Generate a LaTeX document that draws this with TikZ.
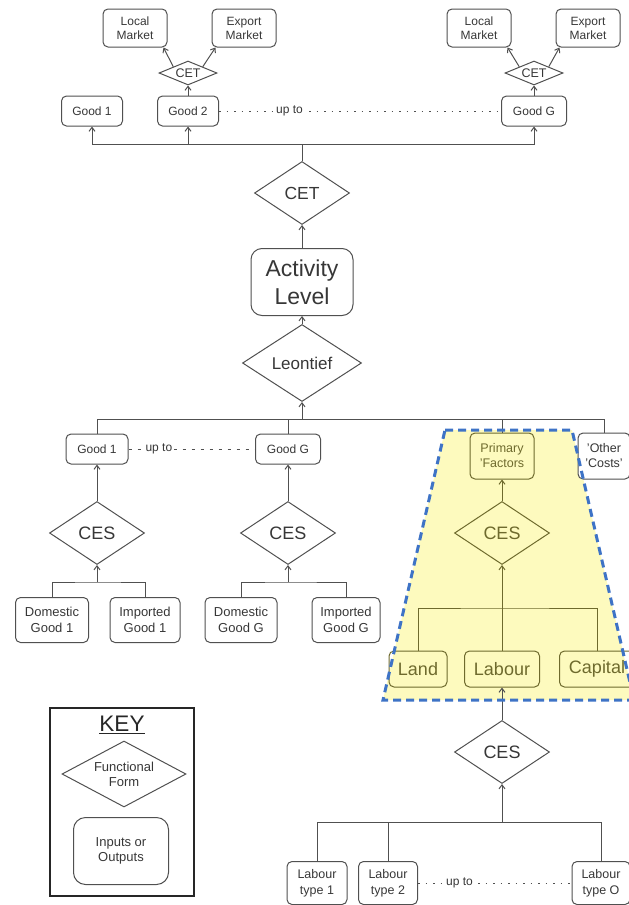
\documentclass[tikz,border=0pt]{standalone}
\usepackage{fontspec}
\setmainfont{Liberation Sans}
\usetikzlibrary{shapes.geometric,arrows.meta,calc}

\definecolor{lin}{RGB}{80,80,80}
\definecolor{txt}{RGB}{55,55,55}
\definecolor{olv}{RGB}{110,106,45}
\definecolor{yel}{RGB}{253,250,190}
\definecolor{blu}{RGB}{62,115,198}

\tikzset{
  box/.style={draw=lin, text=txt, rounded corners=5pt, align=center, inner sep=1pt,
    line width=1pt, font=\fontsize{12}{14}\selectfont},
  form/.style={diamond, draw=lin, text=txt, inner sep=0pt, align=center, line width=1pt,
    shape aspect=1.5, minimum width=95pt, minimum height=63pt, font=\fontsize{18}{20}\selectfont},
  small/.style={shape aspect=2.4, minimum width=58pt, minimum height=24pt,
    font=\fontsize{12.5}{14}\selectfont},
  inyel/.style={draw=olv, text=olv},
  link/.style={draw=lin, line width=1pt},
  upto/.style={draw=lin, line width=1pt, dash pattern=on 1.5pt off 6pt},
  uptext/.style={fill=white, text=txt, inner sep=1.5pt, font=\fontsize{12}{14}\selectfont}
}

\begin{document}
\begin{tikzpicture}[x=1pt, y=-1pt, >={Straight Barb[length=4pt,width=6pt]}]
\useasboundingbox (0,0) rectangle (629,905);
\clip (0,0) rectangle (629,905);

% yellow area behind primary factors
\coordinate (ztl) at (445,430);
\coordinate (ztr) at (572,430);
\coordinate (zbr) at (634,700);
\coordinate (zbl) at (383,700);
\fill[yel] (ztl) -- (ztr) -- (zbr) -- (zbl) -- cycle;

% outputs
\node[box, minimum width=64pt, minimum height=38pt] at (135,28) (mkl1) {Local\\Market};
\node[box, minimum width=64pt, minimum height=38pt] at (244,28) (mkx1) {Export\\Market};
\node[form, small] at (188,73) (cet1) {CET};
\node[box, minimum width=64pt, minimum height=38pt] at (479,28) (mkl2) {Local\\Market};
\node[box, minimum width=64pt, minimum height=38pt] at (588,28) (mkx2) {Export\\Market};
\node[form, small] at (534,73) (cet2) {CET};

\node[box, minimum width=61pt, minimum height=30pt] at (92,111) (gd1) {Good 1};
\node[box, minimum width=61pt, minimum height=30pt] at (188,111) (gd2) {Good 2};
\node[box, minimum width=65pt, minimum height=30pt] at (534,111) (gdG) {Good G};

\node[form, font=\fontsize{17.5}{20}\selectfont] at (302,193) (cet) {CET};
\node[box, rounded corners=11pt, minimum width=102pt, minimum height=67pt,
  font=\fontsize{23}{28}\selectfont] at (302,282) (act) {Activity\\Level};
\node[form, minimum width=119pt, minimum height=77pt,
  font=\fontsize{17}{20}\selectfont] at (302,363) (leo) {Leontief};

% inputs
\node[box, minimum width=62pt, minimum height=30pt] at (97,449) (in1) {Good 1};
\node[box, minimum width=65pt, minimum height=30pt] at (288,449) (inG) {Good G};
\node[box, inyel, minimum width=64pt, minimum height=46pt,
  font=\fontsize{12.5}{15}\selectfont] at (502,456) (prim) {Primary\\'Factors};
\node[box, fill=white, minimum width=52pt, minimum height=46pt,
  font=\fontsize{12.5}{15}\selectfont] at (604,456) (oth) {'Other\\'Costs'};

\node[form] at (97,533) (ces1) {CES};
\node[form] at (288,533) (ces2) {CES};
\node[form, inyel] at (502,533) (ces3) {CES};

\node[box, minimum width=73pt, minimum height=45pt, font=\fontsize{13}{16.5}\selectfont]
  at (52,620) (dom1) {Domestic\\Good 1};
\node[box, minimum width=70pt, minimum height=45pt, font=\fontsize{13}{16.5}\selectfont]
  at (145,620) (imp1) {Imported\\Good 1};
\node[box, minimum width=72pt, minimum height=45pt, font=\fontsize{13}{16.5}\selectfont]
  at (241,620) (domG) {Domestic\\Good G};
\node[box, minimum width=68pt, minimum height=45pt, font=\fontsize{13}{16.5}\selectfont]
  at (346,620) (impG) {Imported\\Good G};

\node[box, inyel, minimum width=58pt, minimum height=36pt, font=\fontsize{18}{20}\selectfont]
  at (418,669) (land) {Land};
\node[box, inyel, minimum width=75pt, minimum height=36pt, font=\fontsize{18}{20}\selectfont]
  at (502,669) (lab) {Labour};
\node[box, inyel, minimum width=75pt, minimum height=36pt, font=\fontsize{18}{20}\selectfont]
  at (597,669) (cap) {Capital};

\node[form] at (502,752) (ces4) {CES};

\node[box, minimum width=60pt, minimum height=43pt, font=\fontsize{12.5}{16}\selectfont]
  at (317,883) (lt1) {Labour\\type 1};
\node[box, minimum width=59pt, minimum height=43pt, font=\fontsize{12.5}{16}\selectfont]
  at (388,883) (lt2) {Labour\\type 2};
\node[box, minimum width=58pt, minimum height=43pt, font=\fontsize{12.5}{16}\selectfont]
  at (601,883) (ltO) {Labour\\type O};

% key
\node[draw=black!85, line width=2pt, minimum width=144pt, minimum height=188pt]
  at (122,802) (key) {};
\node[text=black!85, font=\fontsize{22.5}{24}\selectfont] at (122,725) (keyt) {\underline{KEY}};
\node[form, shape aspect=1.88, minimum width=124pt, minimum height=66pt,
  font=\fontsize{13}{15}\selectfont] at (124,774) (kform) {Functional\\Form};
\node[box, rounded corners=12pt, minimum width=95pt, minimum height=67pt,
  font=\fontsize{13}{15.5}\selectfont] at (121,851) (kbox) {Inputs or\\Outputs};

% connectors, top part
\coordinate (topbus) at (302,144);
\draw[link] (cet) -- (topbus);
\draw[link, ->] (topbus) -| (gd1);
\draw[link, ->] (topbus) -| (gd2);
\draw[link, ->] (topbus) -| (gdG);
\draw[link, ->] (gd2) -- (cet1);
\draw[link, ->] (gdG) -- (cet2);
\draw[link, ->] (cet1.north west) -- ([xshift=-4pt]mkl1.south east);
\draw[link, ->] (cet1.north east) -- ([xshift=4pt]mkx1.south west);
\draw[link, ->] (cet2.north west) -- ([xshift=-4pt]mkl2.south east);
\draw[link, ->] (cet2.north east) -- ([xshift=4pt]mkx2.south west);
\draw[upto] (gd2) -- node[uptext, pos=0.25] {up to} (gdG);

\draw[link, ->] (act) -- (cet);
\draw[link, ->] (leo) -- (act);

% connectors, inputs
\coordinate (midbus) at (302,419);
\draw[link, ->] (midbus) -- (leo);
\draw[link] (in1) |- (midbus);
\draw[link] (inG) |- (midbus);
\draw[link] (prim) |- (midbus);
\draw[link] (oth) |- (midbus);
\draw[upto, dash pattern=on 3pt off 6pt] (in1) -- node[uptext, pos=0.24] {up to} (inG);

\draw[link, ->] (ces1) -- (in1);
\draw[link, ->] (ces2) -- (inG);
\draw[link, olv, ->] (ces3) -- (prim);

\coordinate (dbus1) at (97,582);
\coordinate (dbus2) at (288,582);
\draw[link] (dom1) |- (dbus1) -| (imp1);
\draw[link, ->] (dbus1) -- (ces1);
\draw[link] (domG) |- (dbus2) -| (impG);
\draw[link, ->] (dbus2) -- (ces2);

\coordinate (fbus) at (502,608);
\draw[link, olv] (land) |- (fbus) -| (cap);
\draw[link, olv] (lab) -- (fbus);
\draw[link, olv, ->] (fbus) -- (ces3);

\draw[link, ->] (ces4) -- (lab);
\coordinate (lbus) at (502,822);
\draw[link] (lt1) |- (lbus) -| (ltO);
\draw[link] (lt2) |- (lbus);
\draw[link, ->] (lbus) -- (ces4);
\draw[upto] (lt2) -- node[uptext, pos=0.27] {up to} (ltO);

% dashed outline of the factor nest
\draw[blu, line width=3pt, dash pattern=on 8pt off 5pt] (ztl) -- (ztr) -- (zbr) -- (zbl) -- cycle;
\end{tikzpicture}
\end{document}
